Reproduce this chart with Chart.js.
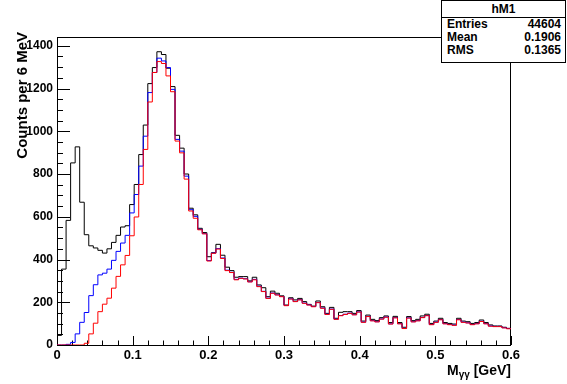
<!DOCTYPE html>
<html><head><meta charset="utf-8">
<script src="https://cdn.jsdelivr.net/npm/chart.js@4/dist/chart.umd.min.js"></script>
<style>
html,body{margin:0;padding:0;background:#fff;}
#wrap{position:relative;width:567px;height:384px;overflow:hidden;}
#c{position:absolute;left:0;top:0;}
#stats{position:absolute;left:441px;top:0;width:125px;height:63px;border:1px solid #000;background:#fff;box-sizing:border-box;font:bold 12px 'Liberation Sans',Arial,sans-serif;color:#000;}
#stats .t{height:16px;line-height:16px;text-align:center;border-bottom:1px solid #000;}
#stats .r{height:13px;line-height:13px;display:flex;justify-content:space-between;padding:0 4px 0 5px;}
</style></head>
<body>
<div id="wrap">
<canvas id="c" width="567" height="384"></canvas>
<div id="stats">
  <div class="t">hM1</div>
  <div class="r"><span>Entries</span><span>44604</span></div>
  <div class="r"><span>Mean</span><span>0.1906</span></div>
  <div class="r"><span>RMS</span><span>0.1365</span></div>
</div>
</div>
<script>
const binWidth = 0.006; // GeV (6 MeV bins)
const xMin = 0, xMax = 0.6;
const xTickLabels = ['0','0.1','0.2','0.3','0.4','0.5','0.6'];
const yTickLabels = ['0','200','400','600','800','1000','1200','1400'];

const blackCounts = [45,355,583,852,927,668,516,464,454,443,430,450,480,513,552,558,657,751,891,1029,
1223,1298,1372,1359,1295,1209,981,921,800,640,609,546,526,413,432,471,420,364,348,317,
320,320,300,317,281,268,226,252,242,230,187,221,211,218,203,190,182,206,179,148,
176,125,153,156,156,148,161,112,140,120,114,128,136,105,134,105,83,133,114,120,
136,144,101,112,125,105,101,98,125,112,109,101,105,117,105,94,89,89,83,78];

const blueCounts = [0,0,3,12,52,106,152,231,282,328,336,355,396,438,477,513,618,704,837,977,
1181,1275,1342,1329,1298,1196,962,907,790,633,602,541,521,395,430,451,407,350,340,307,
313,310,296,307,275,251,219,243,235,227,185,216,204,212,196,188,180,199,173,144,
168,121,138,144,149,142,155,107,134,114,109,122,131,99,128,100,78,127,109,114,
129,138,96,107,119,100,96,93,119,107,104,96,100,111,100,89,87,87,81,77];

const redCounts = [0,0,0,0,0,0,8,52,102,156,191,219,266,321,375,419,511,599,751,915,
1137,1275,1326,1317,1259,1185,954,899,776,627,593,539,520,393,429,449,405,348,339,305,
312,309,295,305,273,250,218,242,234,226,184,215,203,211,195,187,179,198,172,143,
167,120,137,143,148,141,154,106,133,113,108,121,130,98,127,99,77,126,108,113,
128,137,95,106,118,99,95,92,118,106,103,95,99,110,99,88,86,86,80,76];

function toSteps(arr){
  const pts=[{x:xMin,y:0}];
  arr.forEach((v,i)=>pts.push({x:+(xMin+i*binWidth).toFixed(4),y:v}));
  pts.push({x:xMax,y:arr[arr.length-1]});
  return pts;
}

const FONT = "'Liberation Sans', Arial, sans-serif";

const framePlugin = {
  id:'frame',
  beforeDatasetsDraw(chart){
    const {ctx, chartArea:a, scales:{x,y}} = chart;
    ctx.save();
    ctx.strokeStyle='#000'; ctx.lineWidth=1;
    ctx.strokeRect(a.left+0.5, a.top+0.5, a.right-a.left-1, a.bottom-a.top);
    ctx.beginPath();
    for(let v=0; v<=1441; v+=50){
      const py=Math.round(y.getPixelForValue(v))+0.5;
      const len = (v%200===0)?13:6;
      ctx.moveTo(a.left, py); ctx.lineTo(a.left+len, py);
    }
    for(let k=0;k<=30;k++){
      const v=k*0.02;
      const px=Math.round(x.getPixelForValue(v))+0.5;
      const len=(k%5===0)?9:4.5;
      ctx.moveTo(px, a.bottom); ctx.lineTo(px, a.bottom-len);
    }
    ctx.stroke();
    ctx.restore();
  },
  afterDraw(chart){
    const {ctx, chartArea:a} = chart;
    ctx.save();
    ctx.fillStyle='#000';
    const big = 'bold 14px '+FONT, small='bold 10px '+FONT;
    ctx.font=big; const wM=ctx.measureText('M').width; const wR=ctx.measureText(' [GeV]').width;
    ctx.font=small; const wS=ctx.measureText('γγ').width;
    let xs = a.right - (wM+wS+wR); const base=375;
    ctx.textBaseline='alphabetic'; ctx.textAlign='left';
    ctx.font=big; ctx.fillText('M', xs, base); xs+=wM;
    ctx.font=small; ctx.fillText('γγ', xs, base+3); xs+=wS;
    ctx.font=big; ctx.fillText(' [GeV]', xs, base);
    ctx.translate(27, 32); ctx.rotate(-Math.PI/2);
    ctx.font='bold 15px '+FONT; ctx.textAlign='right';
    ctx.fillText('Counts per 6 MeV', 0, 0);
    ctx.restore();
  }
};

const ds = (label, data, color, order) => ({
  label, data: toSteps(data), borderColor: color, borderWidth: 1, pointRadius: 0,
  stepped: 'before', fill: false, tension: 0, order
});

new Chart(document.getElementById('c'), {
  type:'line',
  data:{datasets:[
    ds('all', blackCounts, '#000000', 3),
    ds('blue', blueCounts, '#0000ff', 2),
    ds('red', redCounts, '#ff0000', 1)
  ]},
  options:{
    responsive:false, animation:false, parsing:true,
    layout:{padding:{top:37,right:56,left:0,bottom:0}},
    plugins:{legend:{display:false}, tooltip:{enabled:false}},
    scales:{
      x:{type:'linear', min:xMin, max:xMax,
        grid:{display:false, drawTicks:false}, border:{display:false},
        ticks:{stepSize:0.1, padding:3, color:'#000', font:{family:FONT, size:13, weight:'bold'}, maxRotation:0,
          callback:(v)=>{const i=Math.round(v*10); return Math.abs(v*10-i)<1e-6 ? xTickLabels[i] : '';}},
        afterFit:(s)=>{s.height=39;}
      },
      y:{type:'linear', min:0, max:1441,
        grid:{display:false, drawTicks:false}, border:{display:false},
        ticks:{stepSize:200, includeBounds:false, padding:4, color:'#000', font:{family:FONT, size:12, weight:'bold'},
          callback:(v)=>{const i=Math.round(v/200); return Math.abs(v-i*200)<1e-6 ? yTickLabels[i] : '';}},
        afterFit:(s)=>{s.width=57;}
      }
    }
  },
  plugins:[framePlugin]
});
</script>
</body></html>
